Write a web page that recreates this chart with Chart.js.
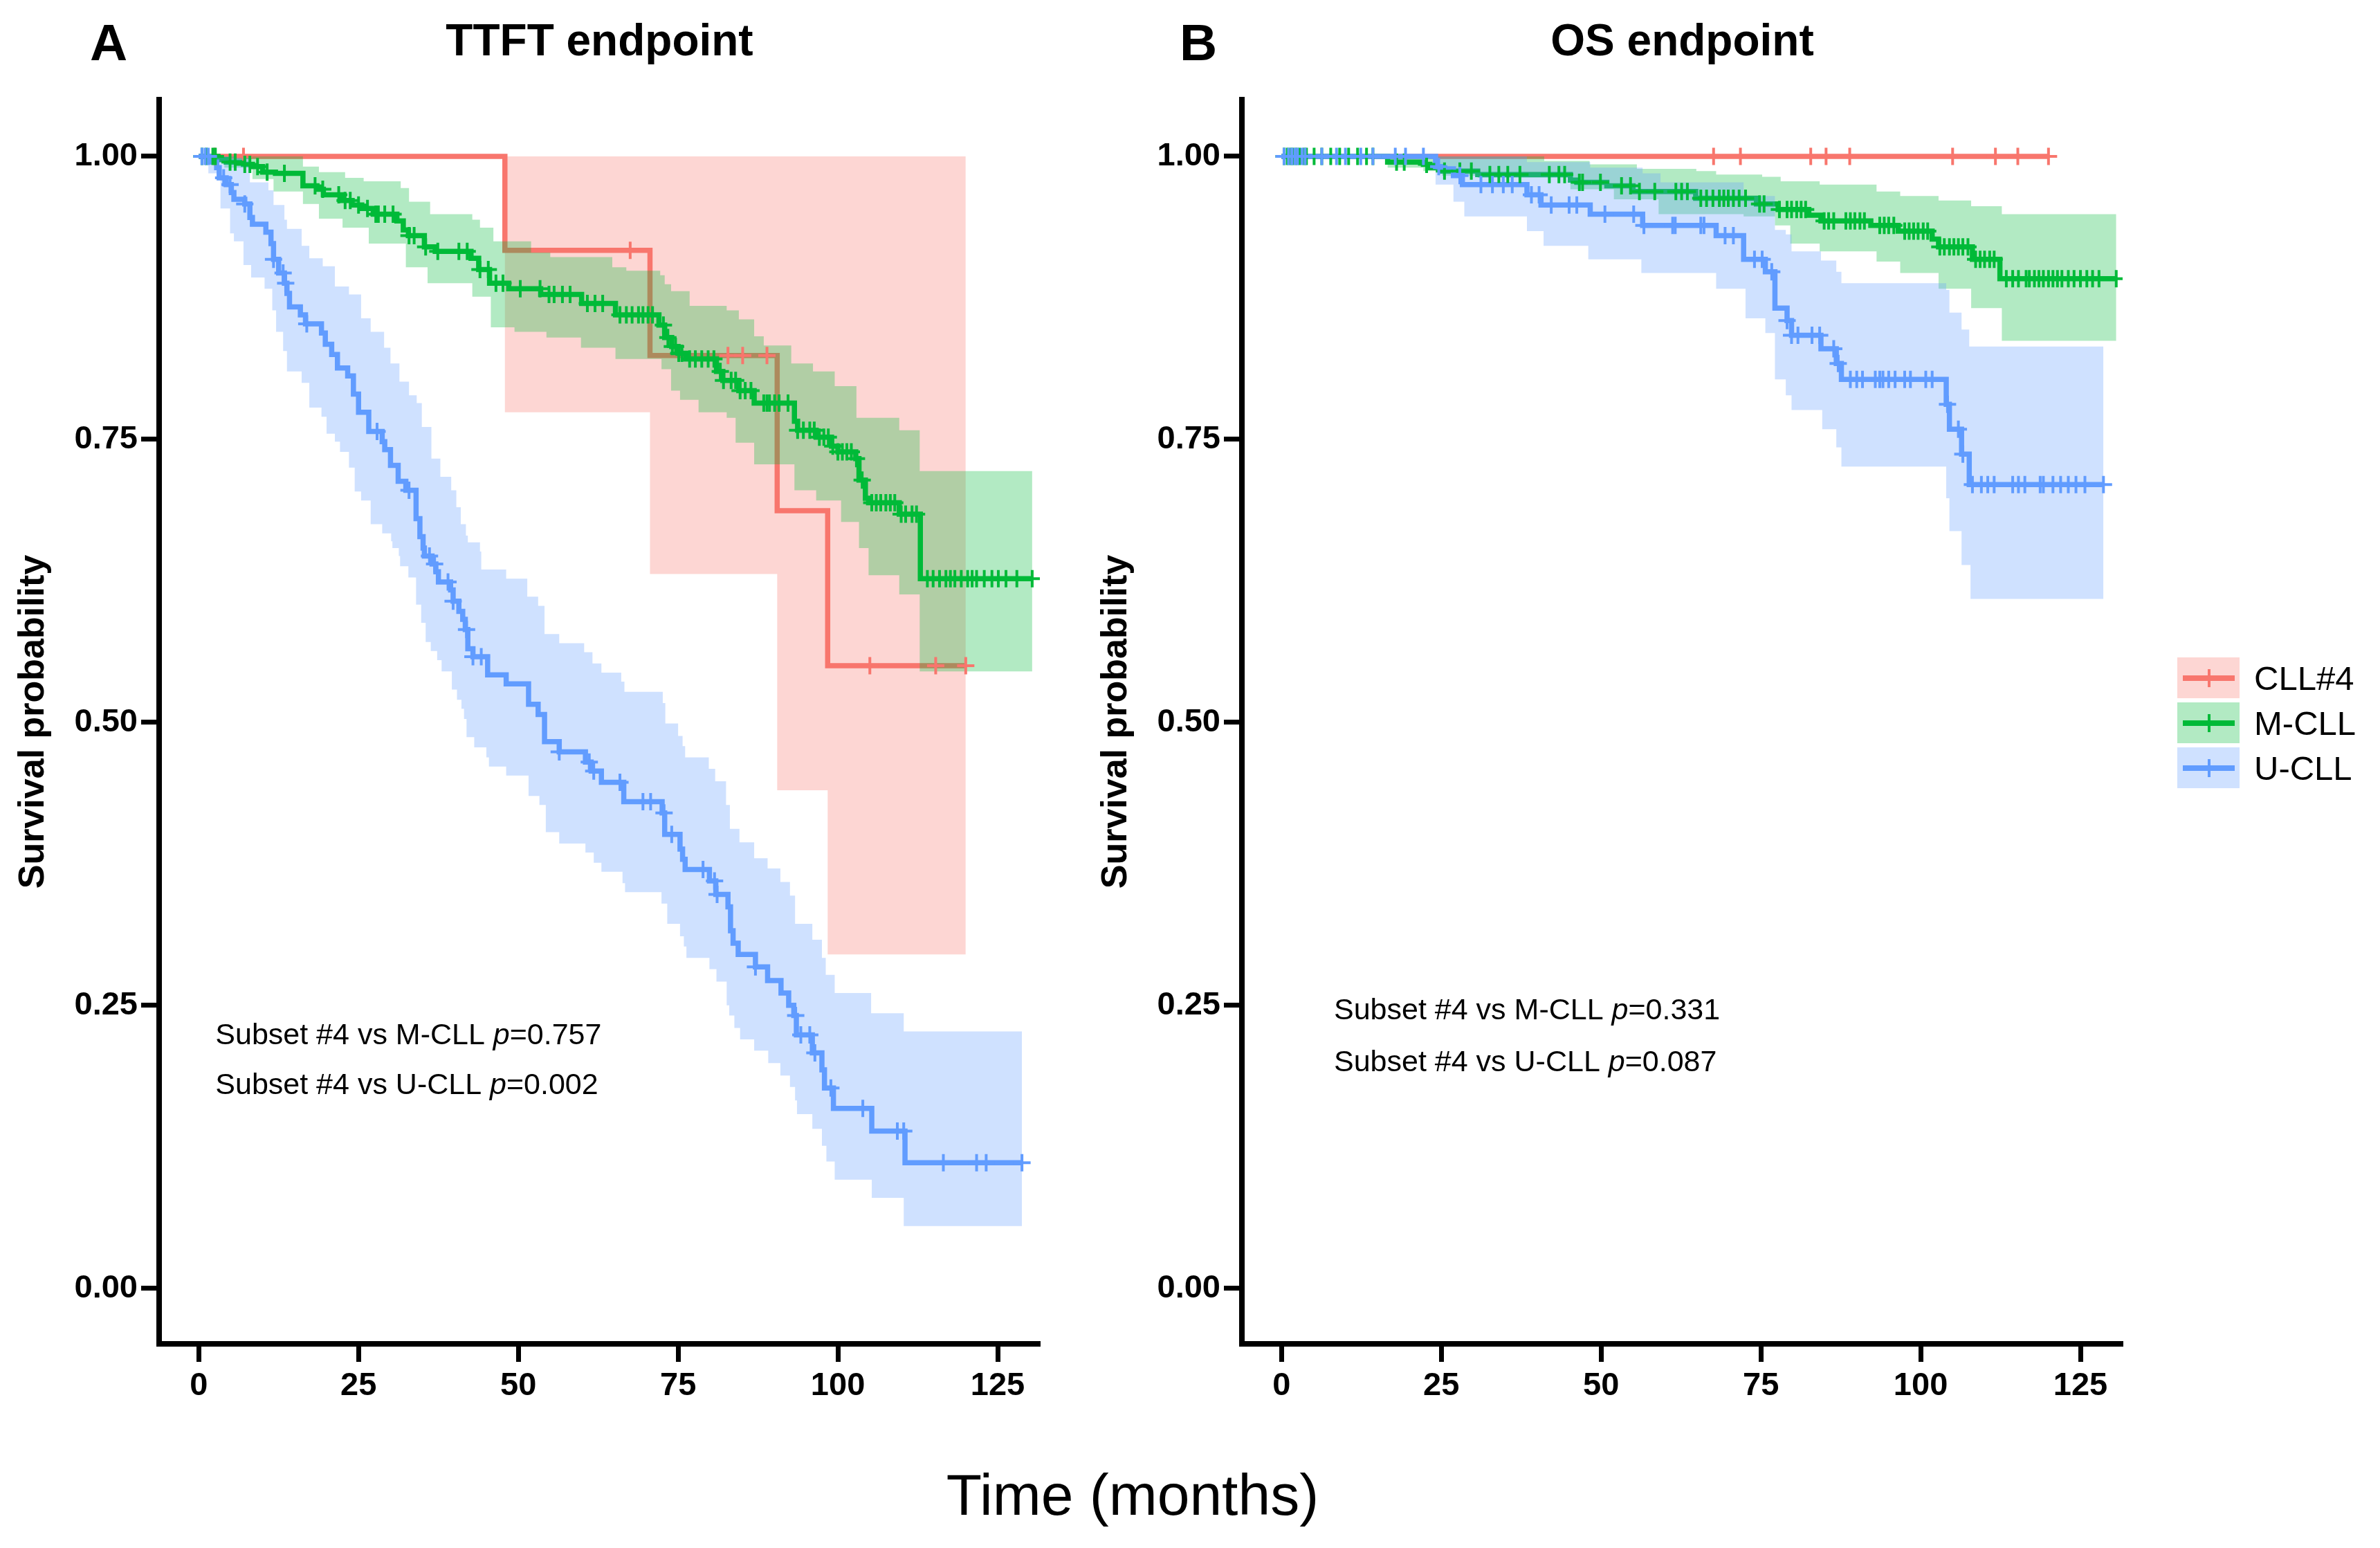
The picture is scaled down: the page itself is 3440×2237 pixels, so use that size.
<!DOCTYPE html>
<html>
<head>
<meta charset="utf-8">
<script src="https://cdn.jsdelivr.net/npm/chart.js@4.4.1/dist/chart.umd.min.js"></script>
<style>
  html, body { margin: 0; padding: 0; background: #fff; }
  body { width: 3440px; height: 2237px; position: relative; overflow: hidden;
         font-family: "Liberation Sans", Arial, sans-serif; color: #000; }
  canvas { position: absolute; top: 0; }
  .lbl { position: absolute; white-space: nowrap; line-height: 1; }
  .key { position: absolute; width: 90px; height: 59px; }
  .key .ln { position: absolute; left: 8px; top: 26px; width: 75px; height: 8px; }
  .key .tk { position: absolute; left: 44px; top: 17px; width: 4px; height: 26px; }
</style>
</head>
<body>
<canvas id="ttft" width="1560" height="2237" style="left:0px"></canvas>
<canvas id="os" width="1560" height="2237" style="left:1565px"></canvas>

<div class="lbl" style="left:130px;top:24px;font-size:75px;font-weight:bold">A</div>
<div class="lbl" style="left:230px;width:1273px;text-align:center;top:26px;font-size:64px;font-weight:bold">TTFT endpoint</div>
<div class="lbl" style="left:1705px;top:24px;font-size:75px;font-weight:bold">B</div>
<div class="lbl" style="left:1795px;width:1273px;text-align:center;top:26px;font-size:64px;font-weight:bold">OS endpoint</div>
<div class="lbl" style="left:1137px;width:1000px;text-align:center;top:2118px;font-size:84px">Time (months)</div>
<div id="legend"></div>

<script>
// axes
const timeTicks = [0, 25, 50, 75, 100, 125];
const timeTickLabels = ['0', '25', '50', '75', '100', '125'];
const survTicks = [0, 0.25, 0.5, 0.75, 1];
const survTickLabels = ['0.00', '0.25', '0.50', '0.75', '1.00'];

const groups = ['CLL#4', 'M-CLL', 'U-CLL'];
const groupColors = ['#F8766D', '#00BA38', '#619CFF'];
const bandColors = ['rgba(248,118,109,0.3)', 'rgba(0,186,56,0.3)', 'rgba(97,156,255,0.3)'];

// ---- TTFT: [months, survival] steps ----
const ttftCll4Curve = [[0,1],[47.9,0.917],[70.6,0.824],[90.5,0.687],[98.4,0.55],[120,0.55]];
const ttftCll4Upper = [[0,1],[120,1]];
const ttftCll4Lower = [[0,1],[47.9,0.774],[70.6,0.631],[90.5,0.44],[98.4,0.295],[120,0.295]];
const ttftCll4Censor = [2.5,7.0,67.5,82.8,85.1,88.9,105.0,115.3,120.0];

const ttftMcllCurve = [[0,1],[3.0,0.997],[4.3,0.995],[7.0,0.993],[8.4,0.991],[10.0,0.986],[12.0,0.985],[16.3,0.974],[18.5,0.971],[19.5,0.966],[22.4,0.961],[24.0,0.957],[25.5,0.954],[27.3,0.949],[31.0,0.943],[32.0,0.935],[32.8,0.930],[35.3,0.920],[37.0,0.916],[42.6,0.910],[43.8,0.900],[45.5,0.888],[48.5,0.883],[53.5,0.878],[59.9,0.870],[65.2,0.860],[72.0,0.851],[72.9,0.840],[74.0,0.832],[75.0,0.826],[76.2,0.821],[81.0,0.810],[82.0,0.802],[84.5,0.793],[86.9,0.782],[93.2,0.766],[93.7,0.758],[96.6,0.752],[99.0,0.744],[100.0,0.739],[102.8,0.733],[103.3,0.714],[104.3,0.698],[104.8,0.694],[109.6,0.684],[112.9,0.627],[130.4,0.627]];
const ttftMcllUpper = [[0,1],[16.3,0.991],[18.8,0.986],[22.9,0.981],[25.8,0.978],[31.6,0.972],[32.9,0.960],[36.2,0.949],[42.8,0.944],[44.0,0.937],[46.1,0.925],[52.0,0.915],[55.0,0.911],[64.7,0.902],[66.9,0.899],[72.2,0.895],[72.9,0.887],[73.9,0.881],[76.8,0.868],[82.6,0.864],[84.5,0.856],[86.9,0.841],[88.4,0.833],[92.7,0.817],[96.1,0.810],[99.5,0.797],[102.9,0.769],[109.6,0.758],[112.8,0.722],[130.4,0.722]];
const ttftMcllLower = [[0,1],[4.0,0.990],[8.4,0.980],[11.7,0.969],[16.3,0.958],[18.8,0.945],[22.5,0.937],[26.6,0.923],[32.4,0.902],[35.8,0.888],[42.8,0.876],[45.7,0.849],[49.4,0.845],[54.4,0.840],[59.8,0.831],[65.2,0.821],[72.4,0.812],[73.9,0.793],[75.3,0.785],[78.2,0.774],[82.6,0.769],[84.0,0.747],[86.9,0.728],[93.2,0.705],[96.6,0.696],[100.5,0.677],[103.3,0.654],[104.8,0.630],[109.6,0.613],[112.8,0.545],[130.4,0.545]];
const ttftMcllCensor = [0.5,1.2,2.2,2.6,4.9,5.7,7.2,8.0,9.2,10.7,13.4,18.2,19.4,21.9,22.9,23.7,25.0,26.4,27.7,28.1,29.1,30.4,32.9,33.7,35.5,37.4,40.7,42.0,44.0,45.3,46.5,47.6,50.3,53.4,54.8,55.6,56.9,58.1,60.8,62.0,63.2,65.9,66.9,67.8,68.8,69.5,70.3,71.0,72.7,73.4,74.1,74.6,75.1,75.6,76.8,77.7,78.7,79.7,80.6,81.6,82.1,83.3,84.0,84.7,85.5,86.4,88.4,88.9,89.3,90.1,90.8,92.2,93.7,94.6,95.6,96.3,97.1,97.8,98.5,99.2,100.0,100.7,101.4,102.1,102.9,103.8,105.3,106.0,106.7,107.5,108.2,108.9,109.9,110.6,111.6,112.3,114.0,114.9,115.9,116.9,117.6,118.3,119.3,120.3,121.0,121.7,122.9,124.1,125.1,126.3,128.0,130.4];

const ttftUcllCurve = [[0,1],[1.8,0.995],[2.8,0.990],[3.2,0.981],[4.3,0.975],[5.1,0.968],[5.5,0.962],[7.2,0.958],[8.0,0.946],[8.4,0.940],[10.5,0.933],[11.3,0.923],[11.7,0.909],[12.5,0.897],[13.4,0.888],[13.8,0.879],[14.2,0.867],[15.9,0.860],[16.7,0.852],[19.2,0.844],[19.8,0.834],[20.8,0.825],[21.7,0.813],[23.3,0.806],[24.2,0.790],[25.0,0.774],[26.6,0.757],[28.7,0.748],[29.1,0.741],[30.0,0.727],[31.2,0.713],[32.4,0.705],[34.0,0.680],[34.6,0.664],[35.1,0.654],[35.3,0.647],[36.5,0.640],[37.1,0.633],[37.5,0.624],[39.4,0.617],[39.8,0.607],[40.7,0.598],[41.3,0.591],[41.7,0.582],[42.1,0.565],[42.9,0.558],[45.2,0.542],[48.1,0.534],[51.6,0.516],[53.1,0.507],[54.1,0.483],[56.4,0.474],[60.5,0.465],[61.4,0.457],[63.0,0.447],[66.5,0.430],[72.5,0.420],[72.9,0.401],[75.3,0.388],[75.7,0.379],[76.1,0.370],[79.9,0.360],[80.9,0.348],[82.8,0.337],[83.2,0.316],[83.6,0.305],[84.4,0.295],[87.1,0.284],[89.0,0.272],[91.1,0.261],[92.3,0.250],[93.1,0.241],[93.5,0.224],[96.0,0.208],[97.5,0.193],[97.9,0.177],[99.3,0.159],[105.3,0.139],[110.5,0.111],[128.8,0.111]];
const ttftUcllUpper = [[0,1],[8.0,0.977],[10.9,0.970],[11.7,0.957],[13.4,0.944],[13.8,0.936],[16.1,0.921],[17.3,0.910],[19.4,0.903],[21.3,0.885],[23.5,0.878],[25.4,0.857],[26.9,0.845],[29.0,0.831],[30.0,0.817],[31.4,0.801],[32.9,0.789],[34.1,0.782],[34.9,0.761],[36.4,0.733],[37.8,0.717],[39.5,0.705],[40.3,0.690],[41.0,0.675],[41.8,0.665],[42.1,0.659],[44.0,0.651],[44.2,0.635],[48.1,0.627],[51.4,0.611],[53.1,0.603],[54.1,0.578],[56.4,0.570],[60.3,0.562],[61.6,0.552],[63.0,0.544],[66.1,0.536],[66.6,0.527],[72.6,0.517],[73.0,0.499],[75.0,0.488],[75.7,0.479],[76.1,0.469],[79.8,0.459],[80.8,0.448],[82.5,0.427],[83.1,0.406],[84.6,0.394],[86.9,0.380],[89.0,0.371],[91.0,0.359],[92.5,0.347],[93.3,0.322],[96.0,0.308],[97.5,0.292],[98.1,0.277],[99.5,0.261],[105.2,0.243],[110.3,0.227],[128.8,0.227]];
const ttftUcllLower = [[0,1],[1.5,0.985],[3.4,0.954],[4.9,0.932],[5.5,0.925],[7.0,0.904],[8.2,0.893],[10.3,0.883],[11.5,0.864],[12.1,0.845],[13.2,0.828],[13.8,0.810],[16.1,0.800],[17.3,0.778],[19.2,0.770],[20.0,0.755],[21.3,0.748],[22.1,0.739],[23.5,0.725],[24.4,0.704],[25.4,0.696],[26.9,0.675],[28.7,0.667],[30.1,0.660],[30.3,0.654],[31.3,0.647],[31.5,0.638],[32.8,0.628],[34.0,0.604],[34.8,0.588],[35.5,0.571],[36.3,0.563],[37.3,0.555],[38.0,0.545],[39.6,0.529],[40.4,0.520],[41.1,0.512],[41.5,0.503],[41.9,0.487],[43.1,0.478],[45.0,0.469],[45.4,0.461],[48.1,0.453],[51.6,0.435],[53.3,0.427],[54.3,0.403],[56.4,0.393],[60.5,0.385],[61.8,0.376],[63.0,0.368],[66.3,0.358],[66.7,0.350],[72.4,0.340],[73.3,0.322],[75.3,0.311],[75.9,0.302],[76.3,0.292],[79.9,0.282],[81.0,0.271],[82.6,0.250],[83.0,0.241],[83.8,0.230],[84.7,0.220],[86.9,0.210],[89.1,0.199],[91.0,0.188],[92.5,0.178],[93.3,0.166],[93.6,0.154],[96.0,0.141],[97.5,0.126],[98.2,0.112],[99.5,0.096],[105.3,0.080],[110.3,0.055],[128.8,0.055]];
const ttftUcllCensor = [0.5,1.0,1.5,3.9,4.9,7.2,11.7,13.2,13.6,16.9,27.9,32.9,36.1,36.9,39.0,39.8,41.9,42.9,44.2,56.4,61.1,61.8,65.9,69.5,70.7,72.8,74.0,78.9,80.7,81.1,87.1,93.4,94.2,95.6,96.4,98.9,103.9,109.3,110.3,116.5,121.7,123.2,128.8];

// ---- OS ----
const osCll4Curve = [[0,1],[120,1]];
const osCll4Censor = [67.6,71.8,82.8,85.2,88.9,105.0,111.7,115.2,120.0];

const osMcllCurve = [[0,1],[16.6,0.995],[22.2,0.993],[23.2,0.990],[25.1,0.987],[30.7,0.984],[45.2,0.979],[46.2,0.977],[50.9,0.974],[55.0,0.969],[64.8,0.963],[74.3,0.958],[77.7,0.953],[82.5,0.948],[84.4,0.943],[92.2,0.939],[96.5,0.934],[101.8,0.927],[102.8,0.920],[108.1,0.909],[112.4,0.892],[130.6,0.892]];
const osMcllUpper = [[0,1],[41.1,0.996],[48.2,0.993],[55.6,0.989],[64.9,0.987],[68.0,0.984],[75.2,0.982],[78.1,0.978],[84.2,0.975],[93.1,0.969],[96.8,0.965],[102.8,0.961],[107.9,0.956],[112.7,0.949],[130.6,0.949]];
const osMcllLower = [[0,1],[16.6,0.990],[22.2,0.987],[25.1,0.983],[30.7,0.981],[45.2,0.971],[52.0,0.962],[59.0,0.949],[72.3,0.947],[77.2,0.939],[79.6,0.923],[84.2,0.916],[93.1,0.907],[96.8,0.897],[102.8,0.883],[107.9,0.866],[112.7,0.837],[130.6,0.837]];
const osMcllCensor = [0.4,0.9,1.4,1.8,2.3,2.8,3.5,3.9,5.1,6.3,7.7,9.1,10.5,11.9,13.3,14.3,18.0,19.2,22.7,25.5,27.9,29.7,32.6,34.0,35.4,37.3,41.9,43.4,44.3,46.6,47.1,49.9,53.2,54.6,56.0,58.4,61.7,62.6,63.5,65.6,66.5,67.5,68.5,69.2,69.9,70.7,71.6,72.6,74.8,75.5,77.9,79.1,79.8,80.6,81.3,82.0,84.9,85.6,86.4,88.3,89.0,89.7,90.5,91.2,93.6,94.3,95.0,95.8,97.5,98.2,98.9,99.6,100.4,101.1,103.0,103.7,104.5,105.2,105.9,106.6,107.4,108.6,109.3,110.0,110.8,111.5,113.4,114.4,115.3,116.5,117.0,117.8,118.5,119.2,120.0,120.7,121.4,122.1,123.1,124.0,125.0,126.0,126.9,127.9,130.6];

const osUcllCurve = [[0,1],[24.1,0.991],[25.1,0.989],[26.9,0.983],[28.3,0.975],[38.4,0.966],[40.6,0.957],[48.3,0.949],[56.5,0.939],[68.0,0.930],[72.3,0.909],[75.7,0.898],[77.2,0.866],[79.1,0.855],[79.8,0.842],[84.4,0.830],[86.8,0.817],[87.6,0.803],[104.0,0.781],[104.5,0.759],[106.4,0.737],[107.6,0.710],[128.6,0.710]];
const osUcllUpper = [[0,1],[38.4,0.995],[48.3,0.990],[56.5,0.985],[59.3,0.977],[72.3,0.965],[77.2,0.935],[78.9,0.931],[79.8,0.916],[84.4,0.908],[86.8,0.898],[87.6,0.888],[104.0,0.882],[104.5,0.862],[106.4,0.847],[107.6,0.832],[128.6,0.832]];
const osUcllLower = [[0,1],[24.1,0.975],[26.9,0.960],[28.6,0.947],[38.4,0.934],[41.0,0.921],[48.0,0.909],[56.3,0.897],[68.0,0.883],[72.6,0.857],[75.7,0.844],[77.2,0.803],[78.9,0.789],[79.8,0.776],[84.6,0.759],[86.8,0.743],[87.6,0.726],[104.0,0.698],[104.5,0.669],[106.4,0.639],[107.8,0.609],[128.6,0.609]];
const osUcllCensor = [0.4,1.1,1.6,2.1,2.5,3.2,3.7,6.3,8.6,10.0,12.4,14.3,17.8,19.4,22.2,24.6,27.9,31.2,33.0,34.7,36.1,39.1,40.3,42.2,45.0,46.2,50.6,55.1,56.7,61.2,61.6,65.6,66.1,69.4,70.7,74.0,75.2,76.7,79.1,79.8,80.8,83.0,84.2,86.4,87.1,89.0,90.0,90.9,92.9,93.6,94.1,95.0,96.0,97.5,98.4,100.8,101.8,104.2,105.9,106.6,108.1,109.5,110.5,111.5,114.4,115.3,116.3,118.7,119.2,120.7,121.9,123.1,124.3,125.7,128.6];

// log-rank labels
const compareLabels = ['Subset #4 vs M-CLL ', 'Subset #4 vs U-CLL '];
const ttftPValues = ['0.757', '0.002'];
const osPValues = ['0.331', '0.087'];

const FONT = '"Liberation Sans", Arial, sans-serif';

function toXY(pairs) { return pairs.map(p => ({ x: p[0], y: p[1] })); }

// survival value of a step curve at time t (used to sit censor marks on the line)
function stepAt(curve, t) {
  let v = curve[0][1];
  for (const p of curve) { if (p[0] <= t) v = p[1]; else break; }
  return v;
}

function panelDatasets(list) {
  const ds = [];
  list.forEach((g, i) => {
    const col = groupColors[i];
    const base = 90 - i * 20;
    if (g.upper) {
      ds.push({ data: toXY(g.upper), stepped: true, borderWidth: 0, borderColor: 'rgba(0,0,0,0)',
                pointRadius: 0, backgroundColor: bandColors[i], fill: '+1', order: base });
      ds.push({ data: toXY(g.lower), stepped: true, borderWidth: 0, borderColor: 'rgba(0,0,0,0)',
                pointRadius: 0, fill: false, order: base + 1 });
    }
    ds.push({ data: toXY(g.curve), stepped: true, borderColor: col, borderWidth: 7.5,
              pointRadius: 0, fill: false, order: base - 5 });
    ds.push({ data: g.censor.map(t => ({ x: t, y: stepAt(g.curve, t) })), showLine: false,
              pointStyle: 'cross', pointRadius: 12.5, pointBorderWidth: 4,
              pointBorderColor: col, borderColor: col, order: 5 - i });
  });
  return ds;
}

const pvalPlugin = {
  id: 'pvals',
  afterDatasetsDraw(chart, args, opts) {
    const ctx = chart.ctx, xs = chart.scales.x, ys = chart.scales.y;
    ctx.save();
    ctx.fillStyle = '#000';
    ctx.textBaseline = 'middle';
    opts.values.forEach((p, i) => {
      let x = xs.getPixelForValue(opts.at[i][0]);
      const y = ys.getPixelForValue(opts.at[i][1]);
      [[compareLabels[i], false], ['p', true], ['=' + p, false]].forEach(([txt, it]) => {
        ctx.font = (it ? 'italic ' : '') + '43px ' + FONT;
        ctx.fillText(txt, x, y);
        x += ctx.measureText(txt).width;
      });
    });
    ctx.restore();
  }
};

function makeChart(id, list, pvals, pAt) {
  const tickFont = { family: FONT, size: 47, weight: 'bold' };
  const grid = { display: true, drawOnChartArea: false, drawTicks: true, tickLength: 26,
                 tickWidth: 7, tickColor: '#000', color: '#000' };
  const border = { display: true, color: '#000', width: 8 };
  new Chart(document.getElementById(id), {
    type: 'line',
    data: { datasets: panelDatasets(list) },
    options: {
      responsive: false, animation: false, devicePixelRatio: 1,
      layout: { padding: { left: 0, top: 144, right: 57, bottom: 0 } },
      plugins: { legend: { display: false }, tooltip: { enabled: false },
                 pvals: { values: pvals, at: pAt } },
      scales: {
        x: {
          type: 'linear', min: -6.2, max: 131.6,
          afterBuildTicks: s => { s.ticks = timeTicks.map(v => ({ value: v })); },
          afterFit: s => { s.height = 295; },
          grid: grid, border: border,
          ticks: { color: '#000', font: tickFont, padding: 7, maxRotation: 0, autoSkip: false,
                   callback: (v, i) => timeTickLabels[i] }
        },
        y: {
          type: 'linear', min: -0.049, max: 1.0501,
          afterBuildTicks: s => { s.ticks = survTicks.map(v => ({ value: v })); },
          afterFit: s => { s.width = 230; },
          grid: grid, border: border,
          ticks: { color: '#000', font: tickFont, padding: 5, autoSkip: false,
                   callback: (v, i) => survTickLabels[i] },
          title: { display: true, text: 'Survival probability', color: '#000',
                   font: { family: FONT, size: 52, weight: 'bold' }, padding: { top: 17, bottom: 0 } }
        }
      }
    },
    plugins: [pvalPlugin]
  });
}

makeChart('ttft', [
  { curve: ttftCll4Curve, upper: ttftCll4Upper, lower: ttftCll4Lower, censor: ttftCll4Censor },
  { curve: ttftMcllCurve, upper: ttftMcllUpper, lower: ttftMcllLower, censor: ttftMcllCensor },
  { curve: ttftUcllCurve, upper: ttftUcllUpper, lower: ttftUcllLower, censor: ttftUcllCensor }
], ttftPValues, [[2.6, 0.223], [2.6, 0.179]]);

makeChart('os', [
  { curve: osCll4Curve, censor: osCll4Censor },
  { curve: osMcllCurve, upper: osMcllUpper, lower: osMcllLower, censor: osMcllCensor },
  { curve: osUcllCurve, upper: osUcllUpper, lower: osUcllLower, censor: osUcllCensor }
], osPValues, [[8.2, 0.245], [8.2, 0.199]]);

// legend
const legend = document.getElementById('legend');
groups.forEach((name, i) => {
  const top = 950 + i * 65;
  const key = document.createElement('div');
  key.className = 'key';
  key.style.left = '3147px';
  key.style.top = top + 'px';
  key.style.background = bandColors[i];
  key.innerHTML = '<div class="ln" style="background:' + groupColors[i] + '"></div>' +
                  '<div class="tk" style="background:' + groupColors[i] + '"></div>';
  legend.appendChild(key);
  const lab = document.createElement('div');
  lab.className = 'lbl';
  lab.style.left = '3258px';
  lab.style.top = (top + 29.5 - 24) + 'px';
  lab.style.fontSize = '49px';
  lab.textContent = name;
  legend.appendChild(lab);
});
</script>
</body>
</html>
